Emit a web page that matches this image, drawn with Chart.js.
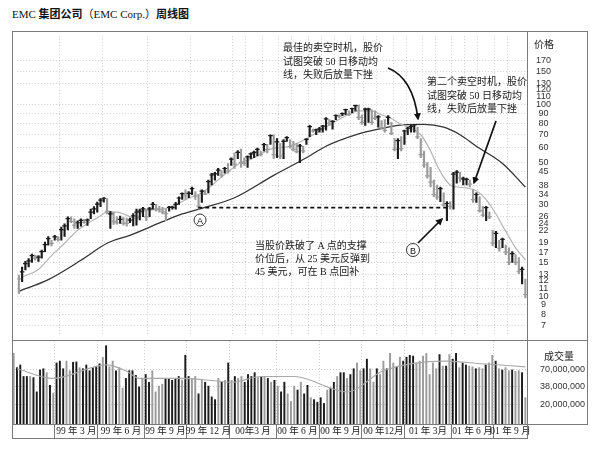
<!DOCTYPE html>
<html lang="zh">
<head>
<meta charset="utf-8">
<title>EMC 集团公司（EMC Corp.）周线图</title>
<script src="https://cdn.jsdelivr.net/npm/chart.js@4.4.1/dist/chart.umd.min.js"></script>
<style>
  html, body { margin:0; padding:0; background:#fff; }
  body { position:relative; width:600px; height:450px; overflow:hidden; color:#222;
         font-family:"Liberation Serif","Noto Sans CJK SC",serif; }
  .box { position:absolute; box-sizing:border-box; }
  #pwrap { left:12px; top:31px; width:576px; height:309px; }
  #vwrap { left:12px; top:341px; width:576px; height:98px; }
  .ln { position:absolute; background:#7a7a7a; z-index:3; }
  #title { position:absolute; left:12px; top:5px; font-size:11px; line-height:16px; white-space:nowrap; color:#111; }
  #title .h { font-family:"Noto Sans CJK SC",sans-serif; font-weight:700; }
  .note { position:absolute; font-size:10px; line-height:13.6px; white-space:nowrap; color:#1a1a1a; z-index:6; }
  .axl { position:absolute; font-family:"Noto Sans CJK SC",sans-serif; font-size:10px; line-height:14px; text-align:center; color:#222; z-index:6; }
  #ov { position:absolute; left:0; top:0; z-index:5; }
</style>
</head>
<body>
<div id="title">EMC <span class="h">集团公司</span>（EMC Corp.）<span class="h">周线图</span></div>
<div class="box" id="pwrap"><canvas id="pc"></canvas></div>
<div class="box" id="vwrap"><canvas id="vc"></canvas></div>

<div class="ln" style="left:12px;top:31px;width:576px;height:1px"></div>
<div class="ln" style="left:12px;top:31px;width:1px;height:408px"></div>
<div class="ln" style="left:587px;top:31px;width:1px;height:394px"></div>
<div class="ln" style="left:527px;top:31px;width:1px;height:408px"></div>
<div class="ln" style="left:12px;top:340px;width:576px;height:1px"></div>
<div class="ln" style="left:12px;top:424px;width:576px;height:1px"></div>
<div class="ln" style="left:12px;top:438px;width:516px;height:1px"></div>

<div class="axl" style="left:532px;top:37px;width:24px;">价格</div>
<div class="axl" style="left:543px;top:349px;width:32px;">成交量</div>

<div class="note" style="left:283px;top:41px;">最佳的卖空时机，股价<br>试图突破 50 日移动均<br>线，失败后放量下挫</div>
<div class="note" style="left:427px;top:75px;">第二个卖空时机，股价<br>试图突破 50 日移动均<br>线，失败后放量下挫</div>
<div class="note" style="left:255px;top:240px;line-height:12.8px;">当股价跌破了 A 点的支撑<br>价位后，从 25 美元反弹到<br>45 美元，可在 B 点回补</div>

<svg id="ov" width="600" height="450">
  <defs>
    <marker id="ah" viewBox="0 0 10 10" refX="8" refY="5" markerWidth="4.2" markerHeight="4.2" orient="auto">
      <path d="M0,0 L10,5 L0,10 z" fill="#111"/>
    </marker>
  </defs>
  <path d="M388,68 Q413,78 418,119" stroke="#111" stroke-width="1.7" fill="none" marker-end="url(#ah)"/>
  <line x1="496" y1="121" x2="474" y2="183" stroke="#111" stroke-width="1.7" marker-end="url(#ah)"/>
  <line x1="418" y1="243" x2="442" y2="219" stroke="#111" stroke-width="1.7" marker-end="url(#ah)"/>
  <circle cx="200" cy="220" r="6" fill="#fff" stroke="#222" stroke-width="0.9"/>
  <text x="200" y="223.5" font-size="9" text-anchor="middle" font-family="Liberation Sans, sans-serif" fill="#111">A</text>
  <circle cx="413" cy="250" r="6.5" fill="#fff" stroke="#222" stroke-width="0.9"/>
  <text x="413" y="253.5" font-size="9" text-anchor="middle" font-family="Liberation Sans, sans-serif" fill="#111">B</text>
</svg>

<script>
// ---------------- data (weekly bars) ----------------
const weeksTotal = 156;

const high = [
12.9,14.2,15.2,15.7,16.6,16.4,16.3,17.4,19.2,20.5,
19.6,20.8,20.5,23.0,23.9,26.0,26.0,25.4,24.8,25.4,
25.2,25.4,28.5,29.4,31.0,32.4,32.8,32.4,27.8,27.5,
26.0,26.2,25.8,25.6,25.6,27.0,28.5,28.5,29.1,28.5,
29.1,30.9,30.2,29.5,29.1,28.5,29.5,29.5,30.9,33.1,
34.7,36.0,35.2,37.2,35.2,33.9,36.0,35.6,40.4,43.9,
44.4,46.6,45.4,47.1,49.4,52.9,56.1,57.7,58.7,52.9,
54.1,56.1,57.4,59.4,57.4,63.0,62.2,69.8,69.8,66.6,
63.0,65.8,68.2,65.8,64.4,63.0,62.2,60.8,66.6,78.2,
74.7,74.7,76.4,78.2,85.8,83.8,82.9,88.8,88.8,90.9,
95.2,93.0,96.3,99.7,99.7,88.8,96.3,96.3,94.1,93.0,
87.8,82.9,83.8,87.8,81.0,66.6,66.6,68.2,73.8,76.4,
78.2,79.1,76.4,66.6,57.4,49.9,47.1,40.4,38.1,37.2,
34.7,31.2,31.2,44.4,45.4,44.4,41.9,41.4,40.4,36.0,
34.7,33.1,29.5,29.5,27.5,22.1,21.8,19.6,20.1,18.5,
17.9,17.1,16.5,15.9,14.2,12.3
];
const low = [
10.3,11.9,13.7,14.2,15.0,15.4,15.2,15.8,17.1,18.5,
18.3,19.6,19.4,19.6,20.5,22.2,24.2,22.6,22.6,23.2,
24.0,23.4,25.4,26.9,27.5,29.4,31.0,26.9,22.6,23.7,
23.8,24.0,23.5,23.2,24.2,23.3,23.5,25.0,26.0,24.8,
26.0,28.5,27.8,27.5,26.9,24.8,27.8,28.5,28.5,30.2,
32.0,32.0,32.7,33.9,32.0,28.5,30.9,33.9,34.7,38.1,
40.4,42.8,41.9,43.9,43.9,48.2,46.6,52.3,47.1,48.2,
47.1,52.3,52.9,54.1,54.1,57.4,56.1,62.2,52.3,52.9,
52.3,52.3,64.4,59.4,57.4,56.1,49.9,56.1,62.2,68.2,
72.1,69.8,72.1,72.1,73.8,78.2,74.7,83.8,85.8,87.8,
88.8,87.8,90.9,93.0,83.8,79.1,78.2,81.0,79.1,83.8,
76.4,74.7,72.1,79.1,69.8,57.4,52.3,57.4,62.2,69.8,
72.1,72.1,66.6,52.9,47.1,41.4,37.2,33.1,32.0,31.2,
29.5,24.8,28.5,28.5,39.0,39.5,38.1,38.1,37.2,30.9,
30.9,27.5,26.0,24.8,25.4,18.3,17.9,17.2,17.9,16.5,
14.6,15.0,14.6,13.1,11.6,9.8
];
const close = [
12.3,13.4,14.8,15.3,16.3,15.8,16.0,17.1,18.6,20.0,
18.9,20.4,19.8,22.3,23.3,25.4,24.6,23.5,24.2,24.9,
24.3,25.0,27.5,28.6,30.3,31.8,32.5,27.8,26.9,24.6,
24.2,25.2,24.0,24.0,25.0,26.3,27.5,27.8,28.6,26.0,
28.6,30.2,28.6,28.3,27.6,27.0,29.1,29.1,30.2,32.6,
34.4,33.5,34.5,36.5,33.3,29.6,35.4,34.2,39.7,43.0,
43.6,45.6,43.0,46.5,45.0,52.0,49.0,56.5,50.0,49.5,
53.5,55.5,56.5,58.5,55.0,62.0,58.5,69.0,55.0,64.0,
54.0,64.5,67.5,60.5,58.5,57.0,61.0,57.5,66.0,77.0,
73.0,74.0,75.0,77.5,84.5,80.0,82.0,88.0,87.0,90.0,
94.5,89.0,95.5,99.0,86.0,81.0,95.0,95.0,81.0,85.0,
86.5,76.0,73.5,86.0,71.0,58.5,65.0,59.0,73.0,75.5,
77.0,78.5,68.0,55.0,48.5,42.5,39.5,34.0,33.0,36.5,
30.0,30.5,29.5,43.5,44.5,41.5,41.0,40.8,38.5,32.0,
34.0,28.0,26.5,29.0,26.0,19.0,21.3,17.8,19.8,17.0,
15.0,16.7,15.0,13.5,13.8,10.2
];
// 1 = dark (up) bar, 0 = grey (down) bar, as printed
const tone = [
0,1,1,1,1,0,1,1,1,1,
0,1,0,1,1,1,0,0,1,1,
0,1,1,1,1,1,1,0,1,0,
0,1,0,0,1,1,1,1,1,0,
1,1,0,0,0,0,1,1,1,1,
1,0,1,1,0,0,1,0,1,1,
1,1,0,1,0,1,0,1,0,0,
1,1,1,1,0,1,0,1,0,1,
0,1,1,0,0,0,1,0,1,1,
0,1,1,1,1,0,1,1,0,1,
1,0,1,1,0,0,1,1,0,0,
1,0,0,1,0,0,1,0,1,1,
1,1,0,0,0,0,0,0,0,1,
0,1,0,1,1,0,1,1,0,0,
1,0,0,1,0,0,1,0,1,0,
0,1,0,0,1,0
];
// weekly volume, millions of shares
const volume = [
120.8,73.5,80.7,54.0,54.0,54.0,51.9,31.6,67.8,70.7,
61.7,39.7,30.3,86.5,92.3,70.7,92.3,66.0,88.7,89.9,
73.5,70.7,80.7,66.0,73.5,75.5,84.1,105.7,157.8,75.5,
92.3,66.0,73.5,36.1,50.5,66.0,66.0,56.2,37.6,50.5,
57.8,44.2,66.0,31.6,38.6,41.3,50.5,50.5,47.2,50.5,
54.0,47.2,113,54.0,50.5,54.0,29.5,47.2,44.2,38.6,
26.5,24.1,50.5,44.2,47.2,86.5,47.2,54.0,50.5,54.0,
44.2,57.8,54.0,61.7,51.9,54.0,54.0,50.5,44.2,47.2,
38.6,31.6,44.2,29.5,22.6,38.6,33.7,44.2,29.5,39.7,
25.8,24.1,22.0,25.8,21.1,33.7,36.1,44.2,54.0,61.7,
61.7,50.5,57.8,70.7,86.5,66.0,70.7,98.8,70.7,44.2,
70.7,57.8,92.3,70.7,120.8,86.5,75.5,105.7,92.3,105.7,
113,110,86.5,92.3,110,120.8,57.8,86.5,70.7,116,
77.6,77.6,116,98.8,120.8,73.5,86.5,80.7,77.6,75.5,
70.7,73.5,70.7,80.7,86.5,113,92.3,70.7,67.8,73.5,
66.0,67.8,64.3,66.0,61.7,25.8
];

// moving averages read at sample weeks
const fastMaWeek = [1,6,10,14,18,21,25,27,30,32,34,36,38,44,53,56,62,68,71,77,83,88,93,98,104,108,111,114,117,120,123,126,128,130,132,134,137,140,143,146,149,152,155];
const fastMaVal  = [12.6,13.8,16.3,18.9,22.1,24.0,26.3,27.5,27.5,26.9,26.0,25.4,27.8,28.5,33.1,34.7,41.9,50.0,52.0,58.7,60.8,66.6,74.7,83.8,93.0,93.0,88.8,84.8,79.1,75.5,69.8,57.4,48.2,41.9,38.1,37.2,36.8,35.6,32.0,26.9,21.8,17.9,15.5];
const slowMaWeek = [0,9,19,27,34,44,50,56,66,78,88,94,104,110,116,124,130,135,140,148,155];
const slowMaVal  = [10.6,12.2,15.4,18.9,20.8,24.5,26.9,28.8,32.7,42.8,52.9,60.8,70.5,74.7,78.2,79.1,76.4,69.8,60.8,49.4,37.2];
const volMaWeek  = [1,12,28,34,38,50,60,66,75,85,101,112,131,142,155];
const volMaVal   = [70.7,50.5,81,66,50.5,50.5,47,44.2,54,54,31.6,66,92.3,84.1,75.5];

// support line from A to B
const supportLevel = 29.0;
const supportWeeks = [55.4, 131.8];

// axes
const priceTicks = [170,150,130,120,110,100,90,80,70,60,50,45,38,34,30,26,24,22,19,17,15,13,12,11,10,9,8,7];
const priceNoGrid = [120,110,24,12];
const priceRange = [6.28, 228.6];
const volumeTicks = [70, 38, 20];
const volumeRange = [10.3, 186];
const qBounds = [13,26,40,53,66,80,93,106,119,133,146];
const qLabels = ["99 年 3 月","99 年 6 月","99 年 9 月","99 年 12 月","00年3 月","00 年 6 月","00 年 9 月","00 年12月","01 年 3月","01 年 6 月","01 年 9 月"];
const priceGridWeeks = [13,26,40,53,66,70,75,80,84,89,93,97,102,106,110,115,119,124,128,133,137,141,146,150];

// ---------------- build ----------------
Chart.defaults.animation = false;
Chart.defaults.events = [];
Chart.defaults.plugins.legend.display = false;
Chart.defaults.plugins.tooltip.enabled = false;

const X = i => i + 0.5;
const barColors = tone.map(t => t ? '#1c1c1c' : '#9c9c9c');
const zeroPad = s => { s.paddingTop = 0; s.paddingBottom = 0; s.paddingLeft = 0; s.paddingRight = 0; };
const GRID = '#c2c2c2';

new Chart(document.getElementById('pc'), {
  type: 'bar',
  data: {
    datasets: [
      { type:'line', data: slowMaWeek.map((w,j)=>({x:X(w), y:slowMaVal[j]})), borderColor:'#333', borderWidth:1.3,
        pointRadius:0, cubicInterpolationMode:'monotone', order:6 },
      { type:'line', data: fastMaWeek.map((w,j)=>({x:X(w), y:fastMaVal[j]})), borderColor:'#b3b3b3', borderWidth:1.2,
        pointRadius:0, cubicInterpolationMode:'monotone', order:5 },
      { type:'bar', data: high.map((h,i)=>({x:X(i), y:[low[i], h]})), backgroundColor: barColors,
        barThickness:1.5, order:3 },
      { type:'scatter', data: close.map((c,i)=>({x:X(i), y:c})), pointStyle:'line', pointRadius:2.3,
        borderWidth:1.2, borderColor: barColors, backgroundColor: barColors,
        pointBorderColor: barColors, pointBorderWidth:1.2, order:2 },
      { type:'line', data: supportWeeks.map(w=>({x:w, y:supportLevel})), borderColor:'#111', borderWidth:1.8,
        borderDash:[4,3], pointRadius:0, order:1 }
    ]
  },
  options: {
    responsive:true, maintainAspectRatio:false,
    layout:{ padding:0 },
    scales: {
      x: { type:'linear', min:0, max:weeksTotal, offset:false,
           afterBuildTicks: s => { s.ticks = priceGridWeeks.map(v=>({value:v})); },
           afterFit: s => { s.height = 0; zeroPad(s); },
           ticks:{ display:false },
           grid:{ display:true, offset:false, drawTicks:false, color:GRID, lineWidth:0.8 },
           border:{ display:false, dash:[1,2] } },
      y: { type:'logarithmic', position:'right', min:priceRange[0], max:priceRange[1],
           afterBuildTicks: s => { s.ticks = priceTicks.map(v=>({value:v})); },
           afterFit: s => { s.width = 61; zeroPad(s); },
           ticks:{ autoSkip:false, callback: v => String(v), crossAlign:'center', padding:9,
                   font:{ family:'"Liberation Sans", Arial, sans-serif', size:9 }, color:'#333' },
           grid:{ drawTicks:false, lineWidth:0.8,
                  color: c => (c.tick && priceNoGrid.includes(c.tick.value)) ? 'rgba(0,0,0,0)' : GRID },
           border:{ display:false, dash:[1,2] } }
    }
  }
});

const labelCenters = qBounds.map((b,k) => (b + (k + 1 < qBounds.length ? qBounds[k+1] : weeksTotal)) / 2);
const nb = qBounds.length;

new Chart(document.getElementById('vc'), {
  type: 'bar',
  data: {
    datasets: [
      { type:'line', data: volMaWeek.map((w,j)=>({x:X(w), y:volMaVal[j]})), borderColor:'#a8a8a8', borderWidth:1.1,
        pointRadius:0, cubicInterpolationMode:'monotone', order:1 },
      { type:'bar', data: volume.map((v,i)=>({x:X(i), y:v})), backgroundColor: barColors, barThickness:1.3, order:2 }
    ]
  },
  options: {
    responsive:true, maintainAspectRatio:false,
    layout:{ padding:0 },
    scales: {
      x: { type:'linear', min:0, max:weeksTotal, offset:false,
           afterBuildTicks: s => { s.ticks = qBounds.concat(labelCenters).map(v=>({value:v})); },
           afterFit: s => { s.height = 15; zeroPad(s); },
           ticks:{ autoSkip:false, maxRotation:0, minRotation:0, padding:-13,
                   callback: (v, i) => i < nb ? '' : qLabels[i - nb],
                   font:{ family:'"Liberation Serif", "Noto Sans CJK SC", serif', size:9.5 }, color:'#222' },
           grid:{ offset:false, drawTicks:true, tickLength:15, lineWidth:0.8, tickWidth:1,
                  color: c => c.index < nb ? GRID : 'rgba(0,0,0,0)',
                  tickColor: c => c.index < nb ? '#7a7a7a' : 'rgba(0,0,0,0)',
                  tickBorderDash:[] },
           border:{ display:false, dash:[1,2] } },
      y: { type:'logarithmic', position:'right', min:volumeRange[0], max:volumeRange[1],
           afterBuildTicks: s => { s.ticks = volumeTicks.map(v=>({value:v})); },
           afterFit: s => { s.width = 61; zeroPad(s); },
           ticks:{ autoSkip:false, crossAlign:'near', padding:13,
                   callback: v => (v * 1e6).toLocaleString('en-US'),
                   font:{ family:'"Liberation Sans", Arial, sans-serif', size:9 }, color:'#333' },
           grid:{ drawTicks:false, lineWidth:0.8, color:GRID },
           border:{ display:false, dash:[1,2] } }
    }
  }
});
</script>
</body>
</html>
